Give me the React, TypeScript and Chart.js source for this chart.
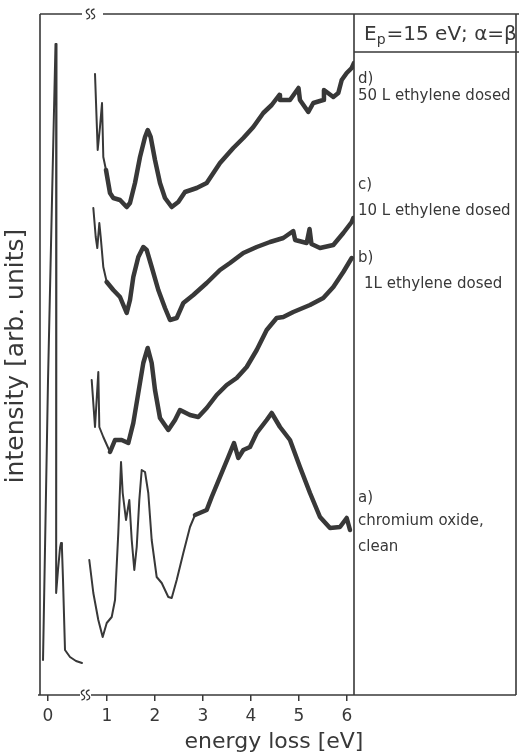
import { useEffect, useRef } from "react";
import { Chart, registerables } from "chart.js";

Chart.register(...registerables);

// Energy-loss axis: ticks shown in eV; the elastic region left of the axis break
// is drawn shifted by BREAK_SHIFT so that it sits next to the 1 eV tick.
const TICK_LABELS = [0, 1, 2, 3, 4, 5, 6];
const BREAK_SHIFT = 0.229;

// [energy loss (eV), intensity (arb. units)]
const ELASTIC: [number, number][] = [
  [-0.104, 35], [0.0, 315], [0.083, 495], [0.156, 651], [0.177, 651],
  [0.172, 400], [0.167, 102], [0.208, 125], [0.25, 147], [0.271, 152],
  [0.29, 147], [0.3125, 115], [0.354, 45], [0.458, 38], [0.583, 34], [0.708, 32],
];

const SPECTRUM_A: [number, number][] = [
  [0.631, 135], [0.715, 102], [0.819, 75], [0.91, 58], [0.994, 72], [1.098, 78],
  [1.167, 95], [1.235, 162], [1.292, 233], [1.327, 202], [1.396, 175], [1.465, 195],
  [1.515, 155], [1.569, 125], [1.619, 148], [1.673, 195], [1.723, 225], [1.792, 223],
  [1.86, 202], [1.931, 155], [2.035, 118], [2.14, 112], [2.277, 98], [2.348, 97],
  [2.452, 115], [2.59, 142], [2.729, 168], [2.833, 180], [3.077, 185], [3.181, 198],
  [3.354, 218], [3.527, 238], [3.646, 252], [3.735, 237], [3.84, 245], [3.979, 248],
  [4.119, 262], [4.327, 275], [4.431, 282], [4.604, 268], [4.8125, 255], [5.02, 228],
  [5.229, 202], [5.4375, 178], [5.646, 167], [5.854, 168], [5.994, 177], [6.0625, 165],
];

const SPECTRUM_B: [number, number][] = [
  [0.681, 315], [0.75, 268], [0.819, 323], [0.84, 268], [0.923, 258], [1.0625, 243],
  [1.167, 255], [1.306, 255], [1.444, 252], [1.548, 272], [1.652, 302], [1.756, 332],
  [1.848, 347], [1.931, 332], [2.0, 305], [2.104, 277], [2.277, 265], [2.417, 275],
  [2.521, 285], [2.729, 280], [2.902, 278], [3.077, 287], [3.285, 300], [3.494, 310],
  [3.702, 317], [3.91, 328], [4.119, 345], [4.327, 365], [4.535, 377], [4.673, 378],
  [4.881, 383], [5.229, 390], [5.506, 397], [5.715, 408], [5.923, 423], [6.098, 437],
];

const SPECTRUM_C: [number, number][] = [
  [0.715, 487], [0.765, 458], [0.798, 447], [0.84, 472], [0.869, 458], [0.923, 428],
  [0.994, 413], [1.131, 405], [1.271, 398], [1.41, 382], [1.479, 395], [1.548, 418],
  [1.652, 438], [1.756, 448], [1.827, 445], [1.931, 428], [2.069, 405], [2.208, 387],
  [2.3125, 375], [2.452, 377], [2.59, 392], [2.798, 400], [3.077, 412], [3.354, 425],
  [3.5625, 432], [3.84, 442], [4.119, 448], [4.396, 453], [4.673, 457], [4.88, 464],
  [4.92, 455], [5.16, 452], [5.22, 466], [5.26, 451], [5.4375, 447], [5.715, 450],
  [5.923, 462], [6.098, 473], [6.131, 477],
];

const SPECTRUM_D: [number, number][] = [
  [0.75, 621], [0.806, 545], [0.854, 568], [0.896, 592], [0.923, 538], [0.979, 525],
  [1.0625, 502], [1.131, 497], [1.271, 495], [1.41, 488], [1.479, 492], [1.583, 512],
  [1.6875, 538], [1.792, 558], [1.848, 565], [1.91, 558], [2.0, 535], [2.104, 512],
  [2.208, 497], [2.348, 488], [2.485, 493], [2.625, 503], [2.869, 507], [3.077, 512],
  [3.354, 532], [3.631, 547], [3.84, 557], [4.048, 568], [4.256, 582], [4.431, 590],
  [4.59, 600], [4.604, 595], [4.8125, 595], [4.99, 607], [5.02, 595], [5.194, 583],
  [5.298, 592], [5.506, 595], [5.52, 605], [5.715, 598], [5.819, 602],
  [5.89, 615], [5.994, 622], [6.098, 627], [6.146, 632],
];

const PANEL_LABELS: [string, number, number][] = [
  ["d)", 358, 79],
  ["50 L ethylene dosed", 358, 96],
  ["c)", 358, 185],
  ["10 L ethylene dosed", 358, 211],
  ["b)", 358, 258],
  ["1L ethylene dosed", 364, 284],
  ["a)", 358, 498],
  ["chromium oxide,", 358, 521],
  ["clean", 358, 547],
];

const INK = "#383838";
const FONT = '"DejaVu Sans", sans-serif';

const toPoints = (rows: [number, number][], shift = 0) =>
  rows.map(([e, i]) => ({ x: e - shift, y: i }));

const thinThenThick = (limit: number) => (ctx: any) =>
  ctx.p0.parsed.x < limit ? 2 : 4.5;

// Frame with axis breaks, the side panel and all the annotation text.
const framePlugin = {
  id: "frame",
  afterDraw(chart: any) {
    const { ctx, chartArea: a } = chart;
    const left = a.left, right = a.right, top = a.top, bottom = a.bottom;
    const panelRight = 516;
    ctx.save();
    ctx.strokeStyle = INK;
    ctx.lineWidth = 1.6;
    ctx.lineCap = "butt";
    const line = (x1: number, y1: number, x2: number, y2: number) => {
      ctx.beginPath();
      ctx.moveTo(x1, y1);
      ctx.lineTo(x2, y2);
      ctx.stroke();
    };
    // left and right edges of the plot, panel border
    line(left, top, left, bottom);
    line(right, top, right, bottom);
    line(panelRight, top, panelRight, bottom);
    // top edge with break
    line(left, top, 82, top);
    line(103, top, 519, top);
    // bottom edge with break
    line(left - 2, bottom, 80, bottom);
    line(91, bottom, panelRight, bottom);
    // title box underline
    line(right, 52, 519, 52);
    // break symbols
    const squiggle = (x: number, y: number) => {
      ctx.beginPath();
      ctx.moveTo(x + 1.5, y - 5);
      ctx.bezierCurveTo(x - 3, y - 4, x - 2, y - 1, x, y);
      ctx.bezierCurveTo(x + 2, y + 1, x + 3, y + 4, x - 1.5, y + 5);
      ctx.stroke();
    };
    ctx.lineWidth = 1.3;
    squiggle(88, top);
    squiggle(93, top);
    squiggle(83, bottom);
    squiggle(88, bottom);

    ctx.fillStyle = INK;
    // axis titles
    ctx.textAlign = "center";
    ctx.textBaseline = "middle";
    ctx.font = `25px ${FONT}`;
    ctx.save();
    ctx.translate(16, 356);
    ctx.rotate(-Math.PI / 2);
    ctx.fillText("intensity [arb. units]", 0, 0);
    ctx.restore();
    ctx.font = `22px ${FONT}`;
    ctx.fillText("energy loss [eV]", 274, 742);

    // panel heading: E_p = 15 eV; α=β
    ctx.textAlign = "left";
    ctx.textBaseline = "alphabetic";
    let x = 364;
    const base = 40;
    ctx.font = `20px ${FONT}`;
    ctx.fillText("E", x, base);
    x += ctx.measureText("E").width;
    ctx.font = `14px ${FONT}`;
    ctx.fillText("p", x, base + 4);
    x += ctx.measureText("p").width + 1;
    ctx.font = `20px ${FONT}`;
    ctx.fillText("=15 eV; \u03b1=\u03b2", x, base);

    // spectrum labels
    ctx.textBaseline = "middle";
    ctx.font = `15px ${FONT}`;
    for (const [text, tx, ty] of PANEL_LABELS) ctx.fillText(text, tx, ty);
    ctx.restore();
  },
};

export default function App() {
  const ref = useRef<HTMLCanvasElement>(null);

  useEffect(() => {
    const series = (rows: [number, number][], width: (c: any) => number, shift = 0) => ({
      data: toPoints(rows, shift),
      borderColor: INK,
      borderWidth: 2,
      segment: { borderWidth: width },
      pointRadius: 0,
      tension: 0,
      fill: false,
    });

    const chart = new Chart(ref.current as HTMLCanvasElement, {
      type: "line",
      data: {
        datasets: [
          series(ELASTIC, () => 2, BREAK_SHIFT),
          series(SPECTRUM_A, thinThenThick(2.75)),
          series(SPECTRUM_B, thinThenThick(1.0)),
          series(SPECTRUM_C, thinThenThick(0.95)),
          series(SPECTRUM_D, thinThenThick(0.95)),
        ] as any,
      },
      options: {
        responsive: false,
        animation: false,
        devicePixelRatio: 1,
        layout: { padding: { left: 40, right: 165, top: 14, bottom: 0 } },
        plugins: { legend: { display: false }, tooltip: { enabled: false } },
        elements: { line: { borderJoinStyle: "round", borderCapStyle: "round" } },
        scales: {
          x: {
            type: "linear",
            min: -0.396,
            max: 6.146,
            afterBuildTicks(scale: any) {
              scale.ticks = TICK_LABELS.map((v) => ({ value: v < 1 ? v - BREAK_SHIFT : v }));
            },
            afterFit(scale: any) {
              scale.height = 60;
            },
            ticks: {
              callback: (value: any) =>
                String(Math.round(value < 0.5 ? value + BREAK_SHIFT : value)),
              font: { family: FONT, size: 17 },
              color: INK,
              padding: 5,
              maxRotation: 0,
              autoSkip: false,
            },
            grid: {
              drawOnChartArea: false,
              drawTicks: true,
              tickLength: 6,
              color: INK,
              lineWidth: 1.5,
            },
            border: { display: false },
          },
          y: {
            type: "linear",
            min: 0,
            max: 681,
            display: false,
          },
        },
      },
      plugins: [framePlugin],
    });
    return () => chart.destroy();
  }, []);

  return (
    <div style={{ position: "fixed", left: 0, top: 0, width: 519, height: 755, background: "#fff" }}>
      <canvas ref={ref} width={519} height={755} style={{ display: "block", width: 519, height: 755 }} />
    </div>
  );
}
